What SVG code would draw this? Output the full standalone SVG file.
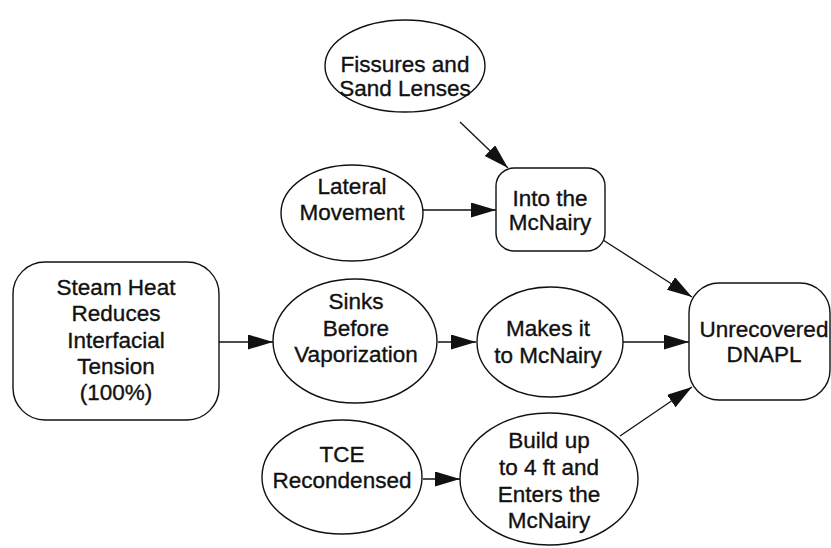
<svg xmlns="http://www.w3.org/2000/svg" width="831" height="548" viewBox="0 0 831 548">
<style>
.n{fill:#fff;stroke:#111;stroke-width:1.4}
.t{font-family:"Liberation Sans",Arial,sans-serif;font-size:22.5px;fill:#111;stroke:#111;stroke-width:0.35;text-anchor:middle}
.c{stroke:#111;stroke-width:1.3;fill:none;marker-end:url(#ah)}
</style>
<defs>
<marker id="ah" markerUnits="userSpaceOnUse" markerWidth="26" markerHeight="16" refX="25" refY="7.5" orient="auto">
<path d="M0,0 L25,7.5 L0,15 z" fill="#111"/>
</marker>
</defs>
<rect width="831" height="548" fill="#fff"/>
<g id="connectors">
<line class="c" x1="219" y1="342" x2="273" y2="342"/>
<line class="c" x1="460" y1="122" x2="508" y2="168"/>
<line class="c" x1="423" y1="210" x2="496" y2="210"/>
<line class="c" x1="438" y1="342" x2="476" y2="342"/>
<line class="c" x1="423" y1="479" x2="460" y2="479"/>
<line class="c" x1="603" y1="240" x2="692" y2="297"/>
<line class="c" x1="623" y1="342" x2="689" y2="342"/>
<line class="c" x1="620" y1="436" x2="692" y2="387"/>
</g>
<g id="steam">
<rect class="n" x="13" y="262" width="206" height="158" rx="32"/>
<text class="t" x="116" y="295">Steam Heat</text>
<text class="t" x="116" y="321">Reduces</text>
<text class="t" x="116" y="348">Interfacial</text>
<text class="t" x="116" y="374">Tension</text>
<text class="t" x="116" y="400">(100%)</text>
</g>
<g id="fissures">
<ellipse class="n" cx="405" cy="66" rx="80" ry="46"/>
<text class="t" x="405" y="72">Fissures and</text>
<text class="t" x="405" y="96">Sand Lenses</text>
</g>
<g id="lateral">
<ellipse class="n" cx="352" cy="213" rx="71" ry="48"/>
<text class="t" x="352" y="194">Lateral</text>
<text class="t" x="352" y="220">Movement</text>
</g>
<g id="into">
<rect class="n" x="496" y="168" width="109" height="83" rx="18"/>
<text class="t" x="550" y="206">Into the</text>
<text class="t" x="550" y="230">McNairy</text>
</g>
<g id="sinks">
<ellipse class="n" cx="355" cy="341" rx="82" ry="62"/>
<text class="t" x="356" y="309">Sinks</text>
<text class="t" x="356" y="336">Before</text>
<text class="t" x="356" y="362">Vaporization</text>
</g>
<g id="makes">
<ellipse class="n" cx="550" cy="342" rx="73" ry="55"/>
<text class="t" x="548" y="336">Makes it</text>
<text class="t" x="548" y="363">to McNairy</text>
</g>
<g id="tce">
<ellipse class="n" cx="342" cy="477" rx="80" ry="57"/>
<text class="t" x="342" y="462">TCE</text>
<text class="t" x="342" y="488">Recondensed</text>
</g>
<g id="build">
<ellipse class="n" cx="549" cy="479" rx="89" ry="66"/>
<text class="t" x="549" y="448">Build up</text>
<text class="t" x="549" y="475">to 4 ft and</text>
<text class="t" x="549" y="502">Enters the</text>
<text class="t" x="549" y="528">McNairy</text>
</g>
<g id="unrecovered">
<rect class="n" x="689" y="283" width="141" height="117" rx="30"/>
<text class="t" x="764" y="337">Unrecovered</text>
<text class="t" x="764" y="362">DNAPL</text>
</g>
</svg>
